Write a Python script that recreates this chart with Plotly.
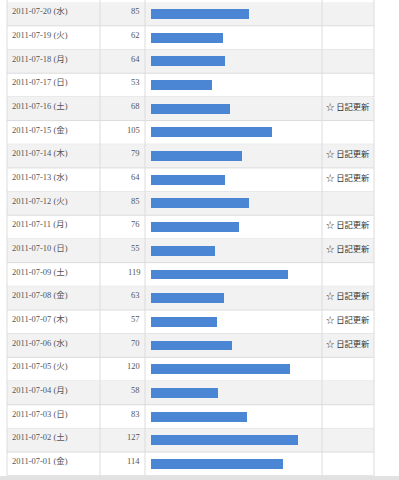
import plotly.graph_objects as go

dates = ["2011-07-20 (水)", "2011-07-19 (火)", "2011-07-18 (月)", "2011-07-17 (日)",
         "2011-07-16 (土)", "2011-07-15 (金)", "2011-07-14 (木)", "2011-07-13 (水)",
         "2011-07-12 (火)", "2011-07-11 (月)", "2011-07-10 (日)", "2011-07-09 (土)",
         "2011-07-08 (金)", "2011-07-07 (木)", "2011-07-06 (水)", "2011-07-05 (火)",
         "2011-07-04 (月)", "2011-07-03 (日)", "2011-07-02 (土)", "2011-07-01 (金)"]
values = [85, 62, 64, 53, 68, 105, 79, 64, 85, 76, 55, 119, 63, 57, 70, 120, 58, 83, 127, 114]
notes = ["", "", "", "", "☆ 日記更新", "", "☆ 日記更新", "☆ 日記更新", "", "☆ 日記更新",
         "☆ 日記更新", "", "☆ 日記更新", "☆ 日記更新", "☆ 日記更新", "", "", "", "", ""]

W, H = 399, 480
n = len(values)
idx = list(range(n))

def px(x):
    return x / W

fig = go.Figure()
fig.add_trace(go.Bar(
    x=values, y=idx, orientation="h", width=0.42,
    marker=dict(color="#4a86d4", line=dict(width=0)),
    hoverinfo="skip",
))

shapes = []
# row backgrounds
for i in idx:
    if i % 2 == 0:
        shapes.append(dict(type="rect", xref="paper", yref="y", x0=px(7), x1=px(374),
                           y0=i - 0.5, y1=i + 0.5, fillcolor="#f2f2f2",
                           line=dict(width=0), layer="below"))
    shapes.append(dict(type="line", xref="paper", yref="y", x0=px(7), x1=px(374),
                       y0=i + 0.5, y1=i + 0.5, line=dict(color="#dcdcdc", width=1),
                       layer="below"))
# vertical column lines
for xv in [7, 100, 145, 322, 374]:
    shapes.append(dict(type="line", xref="paper", yref="y", x0=px(xv), x1=px(xv),
                       y0=-0.7, y1=n - 0.5, line=dict(color="#dcdcdc", width=1),
                       layer="below"))
# bottom strip
shapes.append(dict(type="rect", xref="paper", yref="paper", x0=0, x1=1,
                   y0=0, y1=4 / H, fillcolor="#e2e2e2", line=dict(width=0), layer="below"))

annotations = []
serif = "Liberation Serif, Noto Sans CJK JP, serif"
for i, (d, v, nt) in enumerate(zip(dates, values, notes)):
    annotations.append(dict(xref="paper", yref="y", x=px(10), y=i - 0.12, text=d,
                            showarrow=False, xanchor="left", yanchor="middle",
                            font=dict(family=serif, size=8.5, color="#555555")))
    annotations.append(dict(xref="paper", yref="y", x=px(142), y=i - 0.12, text=str(v),
                            showarrow=False, xanchor="right", yanchor="middle",
                            font=dict(family=serif, size=8.5, color="#555555")))
    if nt:
        annotations.append(dict(xref="paper", yref="y", x=px(324), y=i - 0.12, text=nt,
                                showarrow=False, xanchor="left", yanchor="middle",
                                font=dict(family="Noto Sans CJK JP, sans-serif", size=8.3,
                                          color="#333333")))

px_per_unit = 1.155
fig.update_layout(
    width=W, height=H, margin=dict(l=0, r=0, t=0, b=0),
    paper_bgcolor="white", plot_bgcolor="rgba(0,0,0,0)",
    showlegend=False, shapes=shapes, annotations=annotations,
    bargap=0,
    xaxis=dict(domain=[px(151), 1], range=[0, (W - 151) / px_per_unit],
               visible=False, fixedrange=True),
    yaxis=dict(domain=[0, 1], range=[(H - 14) / 23.68, -14 / 23.68],
               visible=False, fixedrange=True),
)
fig.write_html("out.html")
